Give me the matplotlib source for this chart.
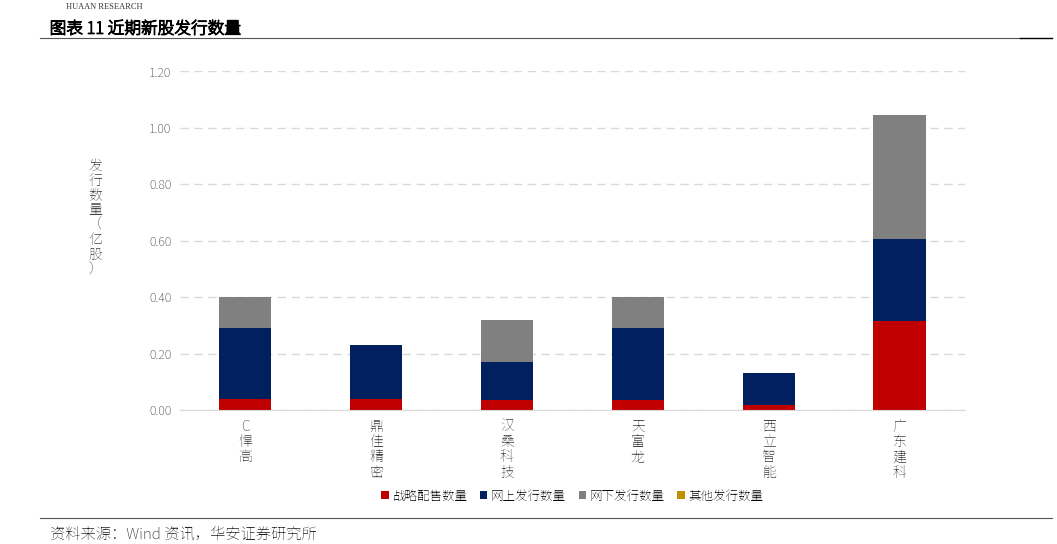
import matplotlib.pyplot as plt
import matplotlib.patheffects as pe
import numpy as np

plt.rcParams["font.family"] = ["Noto Sans SC", "Noto Sans CJK SC", "DejaVu Sans"]

categories = ["C悍高", "鼎佳精密", "汉桑科技", "天富龙", "西立智能", "广东建科"]
strategic = [0.04, 0.04, 0.035, 0.035, 0.02, 0.315]
online = [0.25, 0.19, 0.135, 0.255, 0.11, 0.29]
offline = [0.11, 0.0, 0.15, 0.11, 0.0, 0.44]
other = [0, 0, 0, 0, 0, 0]

series = [("战略配售数量", strategic, "#C00000"),
          ("网上发行数量", online, "#002060"),
          ("网下发行数量", offline, "#808080"),
          ("其他发行数量", other, "#BF9000")]

fig = plt.figure(figsize=(10.57, 5.44), dpi=100)
ax = fig.add_axes([0.170, 0.246, 0.743, 0.623])

x = np.arange(len(categories))
bottom = np.zeros(len(categories))
for name, vals, col in series:
    ax.bar(x, vals, 0.4, bottom=bottom, color=col, label=name)
    bottom += np.array(vals)

ax.set_ylim(0, 1.2)
ax.set_xlim(-0.5, len(categories) - 0.5)
ax.set_yticks(np.arange(0, 1.21, 0.2))
ax.set_yticklabels([f"{v:.2f}" for v in np.arange(0, 1.21, 0.2)], fontsize=9, color="#404040")
ax.yaxis.grid(True, ls=(0, (6, 4)), color="#d9d9d9", lw=1)
ax.set_axisbelow(True)
for s in ["top", "right", "left"]:
    ax.spines[s].set_visible(False)
ax.spines["bottom"].set_color("#d9d9d9")
ax.tick_params(length=0, pad=6)
ax.set_xticks(x)
ax.set_xticklabels(["\n".join(c) for c in categories], fontsize=10, color="#404040",
                   linespacing=0.95)

fig.text(0.09, 0.6, "\n".join("发行数量（亿股）"), fontsize=10, color="#404040",
         ha="center", va="center", linespacing=0.9)

ax.legend(loc="upper center", bbox_to_anchor=(0.5, -0.2), ncol=4, frameon=False,
          fontsize=9, handlelength=0.6, handleheight=0.6, columnspacing=1.0, handletextpad=0.3)

# header / footer
fig.text(0.062, 0.983, "HUAAN RESEARCH", fontsize=6, family="Liberation Serif", color="#333")
fig.text(0.047, 0.938, "图表 11 近期新股发行数量", fontsize=12,
         path_effects=[pe.withStroke(linewidth=0.9, foreground="black")])
fig.add_artist(plt.Line2D([0.038, 0.965], [0.930, 0.930], color="#555", lw=0.8))
fig.add_artist(plt.Line2D([0.965, 0.995], [0.930, 0.930], color="black", lw=1.0))
fig.add_artist(plt.Line2D([0.038, 0.995], [0.048, 0.048], color="#555", lw=0.8))
fig.text(0.047, 0.01, "资料来源：Wind 资讯，华安证券研究所", fontsize=11, color="#222")

fig.savefig("out.png", dpi=100)
